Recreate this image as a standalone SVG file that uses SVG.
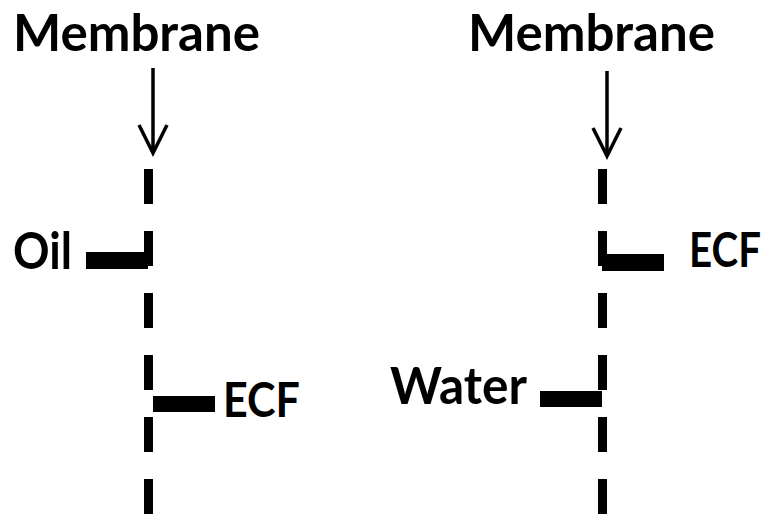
<svg xmlns="http://www.w3.org/2000/svg" width="775" height="514" viewBox="0 0 775 514">
<style>
.t{font-family:Lato,"Open Sans","Liberation Sans",sans-serif;font-weight:bold;font-size:51px;fill:#000}
.s{font-size:48px}
.mem{stroke:#000;stroke-width:9;stroke-dasharray:35 27;fill:none}
.arr{stroke:#000;stroke-width:3.5;fill:none}
.bar{fill:#000}
</style>
<rect width="775" height="514" fill="#fff"/>
<g id="left-membrane">
<text class="t" x="13" y="51" textLength="247" lengthAdjust="spacingAndGlyphs">Membrane</text>
<line class="mem" x1="148.5" y1="169" x2="148.5" y2="514"/>
</g>
<g id="right-membrane">
<text class="t" x="468" y="51" textLength="247" lengthAdjust="spacingAndGlyphs">Membrane</text>
<line class="mem" x1="602.5" y1="169" x2="602.5" y2="514"/>
</g>
<g id="oil">
<text class="t" x="13" y="269" textLength="59" lengthAdjust="spacingAndGlyphs">Oil</text>
<rect class="bar" x="86" y="252" width="62" height="17"/>
</g>
<g id="ecf-left">
<text class="t s" x="223" y="417" textLength="77" lengthAdjust="spacingAndGlyphs">ECF</text>
<rect class="bar" x="153" y="396" width="62" height="16"/>
</g>
<g id="ecf-right">
<text class="t s" x="689" y="267" textLength="72" lengthAdjust="spacingAndGlyphs">ECF</text>
<rect class="bar" x="602" y="254" width="62" height="17"/>
</g>
<g id="water">
<text class="t" x="390" y="404" textLength="137" lengthAdjust="spacingAndGlyphs">Water</text>
<rect class="bar" x="540" y="391" width="62" height="16"/>
</g>
<g id="connectors">
<line class="arr" x1="153" y1="68" x2="153" y2="152"/>
<polyline class="arr" points="139,125 153,153 167,125"/>
<line class="arr" x1="607" y1="71" x2="607" y2="155"/>
<polyline class="arr" points="593,128 607,156 621,128"/>
</g>
</svg>
